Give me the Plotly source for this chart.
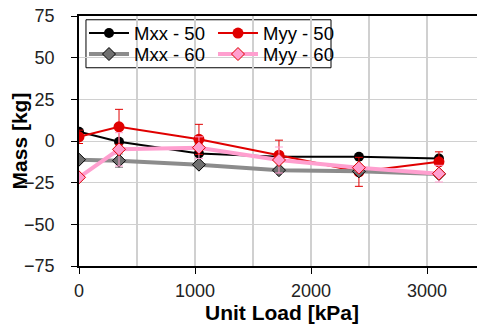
import plotly.graph_objects as go

load = [0, 345, 1034, 1724, 2413, 3103]

mxx50 = [5.5, -0.5, -7.5, -9.5, -9.5, -10.5]
myy50 = [2.5, 8.5, 1.0, -8.5, -18.5, -12.5]
myy50_err = [4.0, 10.5, 9.0, 9.0, 8.7, 6.0]
mxx60 = [-11.2, -11.8, -14.2, -17.5, -18.2, -19.8]
mxx60_err = [1.5, 4.0, 1.5, 1.5, 1.5, 1.5]
myy60 = [-21.8, -5.0, -4.0, -11.4, -16.0, -19.6]
myy60_err = [1.5, 10.0, 6.5, 7.8, 2.0, 5.0]

font = "Arial, Liberation Sans, sans-serif"

fig = go.Figure()
fig.add_trace(go.Scatter(
    x=load, y=mxx50, name="Mxx - 50", mode="lines+markers", legend="legend",
    line=dict(color="black", width=2),
    marker=dict(symbol="circle", size=10, color="black"),
))
fig.add_trace(go.Scatter(
    x=load, y=myy50, name="Myy - 50", mode="lines+markers", legend="legend",
    line=dict(color="#e00000", width=2),
    marker=dict(symbol="circle", size=11, color="#e00000"),
    error_y=dict(type="data", array=myy50_err, color="#e00000", thickness=1, width=4),
))
fig.add_trace(go.Scatter(
    x=load, y=mxx60, name="Mxx - 60", mode="lines+markers", legend="legend2",
    line=dict(color="#8c8c8c", width=4),
    marker=dict(symbol="diamond", size=10, color="#707070", line=dict(color="black", width=1)),
    error_y=dict(type="data", array=mxx60_err, color="#8c8c8c", thickness=1, width=4),
))
fig.add_trace(go.Scatter(
    x=load, y=myy60, name="Myy - 60", mode="lines+markers", legend="legend2",
    line=dict(color="#ff9fcf", width=4),
    marker=dict(symbol="diamond", size=10, color="#ff9fcf", line=dict(color="#e00000", width=1)),
    error_y=dict(type="data", array=myy60_err, color="#ff9fcf", thickness=1, width=4),
))

leg_common = dict(
    orientation="h", xanchor="left", yanchor="middle",
    bgcolor="rgba(0,0,0,0)", borderwidth=0,
    font=dict(size=18.5, color="black", family=font),
    entrywidth=74, entrywidthmode="pixels", itemwidth=40,
)

fig.update_layout(
    width=477, height=317,
    margin=dict(l=71, r=0, t=8, b=59),
    paper_bgcolor="white", plot_bgcolor="white",
    font=dict(family=font, size=18, color="#222"),
    showlegend=True,
    legend=dict(x=0.0123, y=0.93, **leg_common),
    legend2=dict(x=0.0123, y=0.846, **leg_common),
    shapes=[dict(
        type="rect", xref="paper", yref="paper", layer="below",
        x0=0.0172, x1=0.6207, y0=0.793, y1=0.985,
        line=dict(color="black", width=1), fillcolor="white",
    )],
    xaxis=dict(
        range=[0, 3500], dtick=1000, tick0=0,
        showgrid=True, gridcolor="#d0d0d0", gridwidth=1.5,
        minor=dict(dtick=500, showgrid=True, gridcolor="#d0d0d0", gridwidth=1.5),
        showline=True, linecolor="black", linewidth=1.5, mirror=True,
        ticks="outside", ticklen=6, tickcolor="black",
        ticklabelstandoff=2, ticklabeloverflow="allow",
        zeroline=False, automargin=False,
        title=dict(text="<b>Unit Load [kPa]</b>", font=dict(size=21, color="black"), standoff=5),
    ),
    yaxis=dict(
        range=[-75, 75], dtick=25, tick0=0,
        showgrid=True, gridcolor="#d0d0d0", gridwidth=1,
        showline=True, linecolor="black", linewidth=1.5,
        ticks="outside", ticklen=6, tickcolor="black",
        ticklabelstandoff=13, ticklabeloverflow="allow",
        zeroline=False, automargin=False,
        title=dict(text="<b>Mass [kg]</b>", font=dict(size=21, color="black"), standoff=0),
    ),
)

fig.write_html("out.html")
